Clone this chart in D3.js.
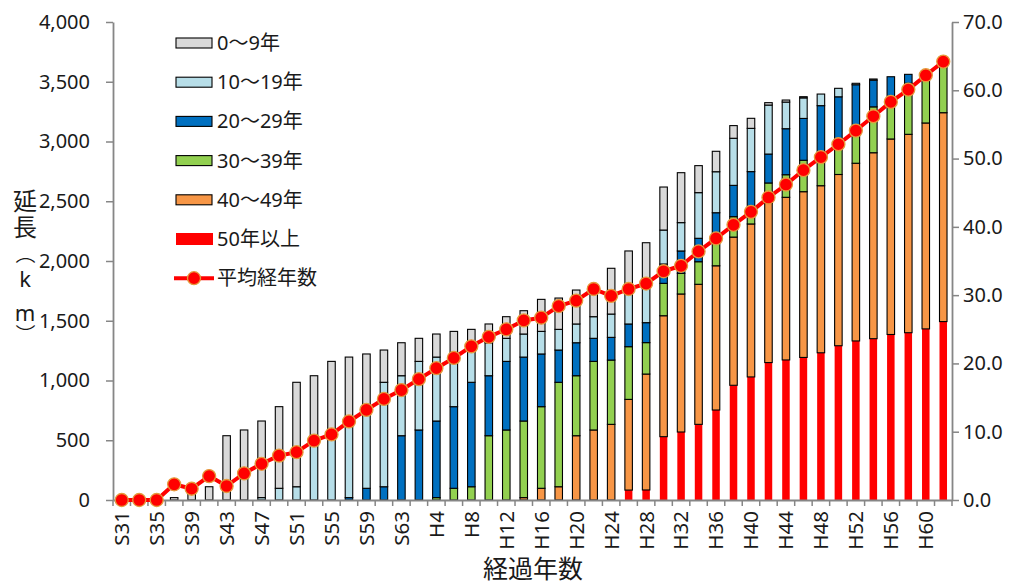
<!DOCTYPE html>
<html>
<head>
<meta charset="utf-8">
<script src="https://cdn.jsdelivr.net/npm/d3@7"></script>
<style>
  html, body { margin: 0; padding: 0; background: #fff; }
  svg { display: block; }
  text { font-family: "Noto Sans", "Noto Sans CJK JP", sans-serif; fill: #1a1a1a; }
</style>
</head>
<body>
<div id="chart"></div>
<script>
// ---------- data ----------
const categories = ["S31","S33","S35","S37","S39","S41","S43","S45","S47","S49","S51","S53","S55","S57","S59","S61","S63",
  "H2","H4","H6","H8","H10","H12","H14","H16","H18","H20","H22","H24","H26","H28","H30","H32","H34","H36","H38","H40",
  "H42","H44","H46","H48","H50","H52","H54","H56","H58","H60","H62"];

const age0_9   = [0,0,0,20,98,111,538,586,641,683,874,502,574,535,441,270,276,193,193,189,173,157,181,195,268,262,284,236,383,364,353,360,418,226,171,106,84,20,17,10,0,0,0,0,0,0,0,0];
const age10_19 = [0,0,0,0,0,0,0,0,20,98,111,538,586,641,683,874,502,574,535,441,270,276,193,193,189,173,157,181,195,247,316,284,237,382,343,394,362,410,223,172,97,71,12,10,0,0,0,0];
const age20_29 = [0,0,0,0,0,0,0,0,0,0,0,0,0,20,98,111,538,586,641,683,874,502,574,535,441,270,276,193,190,190,167,162,187,196,217,262,308,242,385,350,407,384,365,223,197,75,0,0];
const age30_39 = [0,0,0,0,0,0,0,0,0,0,0,0,0,0,0,0,0,0,20,98,111,538,586,641,683,874,502,574,538,441,263,271,173,189,227,171,130,170,189,263,263,266,292,384,324,427,435,449];
const age40_49 = [0,0,0,0,0,0,0,0,0,0,0,0,0,0,0,0,0,0,0,0,0,0,0,20,98,111,538,586,633,759,970,1012,1155,1172,1207,1240,1280,1333,1361,1387,1398,1433,1487,1556,1636,1660,1723,1748];
const age50plus= [0,0,0,0,0,0,0,0,0,0,0,0,0,0,0,0,0,0,0,0,0,0,0,0,0,0,0,0,0,83,84,530,569,633,753,960,1030,1150,1172,1193,1232,1291,1331,1350,1385,1400,1432,1493];
const avgAge   = [0,0,0,2.3,1.65,3.5,2.05,3.9,5.3,6.5,7.0,8.7,9.6,11.5,13.2,14.8,16.1,17.7,19.3,20.8,22.5,23.9,25.0,26.3,26.7,28.4,29.2,30.9,29.9,30.9,31.7,33.5,34.3,36.4,38.3,40.3,42.2,44.3,46.2,48.3,50.2,52.1,54.1,56.2,58.3,60.1,62.2,64.2];

const seriesNames = ["0〜9年","10〜19年","20〜29年","30〜39年","40〜49年","50年以上"];
const lineName = "平均経年数";
const leftTicks = [0,500,1000,1500,2000,2500,3000,3500,4000];
const rightTicks = [0,10,20,30,40,50,60,70];
const xLabelCats = categories.filter((c,i) => i % 2 === 0);
const xTitle = "経過年数";
const yTitleChars = ["延","長","（","k","m","）"];

// ---------- layout ----------
const W = 1018, H = 587;
const L = 113, R = 952, T = 22, B = 500;
const colors = ["#D9D9D9","#B7DEE8","#0070C0","#92D050","#F79646","#FF0000"];

const svg = d3.select("#chart").append("svg").attr("width", W).attr("height", H);
svg.append("rect").attr("width", W).attr("height", H).attr("fill", "#fff");

const x = d3.scaleBand().domain(categories).range([L, R]).padding(0);
const yL = d3.scaleLinear().domain([0, 4000]).range([B, T]);
const yR = d3.scaleLinear().domain([0, 70]).range([B, T]);
const bw = x.bandwidth() * 0.43;

// stacked data
const rows = categories.map((c, i) => ({
  cat: c, s0: age0_9[i], s1: age10_19[i], s2: age20_29[i], s3: age30_39[i], s4: age40_49[i], s5: age50plus[i]
}));
const keys = ["s5","s4","s3","s2","s1","s0"];
const stack = d3.stack().keys(keys)(rows);
const colorOf = {s0:colors[0], s1:colors[1], s2:colors[2], s3:colors[3], s4:colors[4], s5:colors[5]};

const gBars = svg.append("g");
stack.forEach(layer => {
  gBars.append("g").selectAll("rect").data(layer.filter(d => d[1] - d[0] > 0)).join("rect")
    .attr("x", d => x(d.data.cat) + x.bandwidth()/2 - bw/2)
    .attr("width", bw)
    .attr("y", d => yL(d[1]))
    .attr("height", d => yL(d[0]) - yL(d[1]))
    .attr("fill", colorOf[layer.key])
    .attr("stroke", layer.key === "s5" ? "none" : "#000")
    .attr("stroke-width", 1.1);
});

// axes
const axisColor = "#868686";
const gLeft = svg.append("g").attr("transform", `translate(${L},0)`)
  .call(d3.axisLeft(yL).tickValues(leftTicks).tickFormat(d3.format(",")).tickSize(7).tickSizeOuter(0).tickPadding(16));
const gRight = svg.append("g").attr("transform", `translate(${R},0)`)
  .call(d3.axisRight(yR).tickValues(rightTicks).tickFormat(d3.format(".1f")).tickSize(7).tickSizeOuter(0).tickPadding(4));
const gBottom = svg.append("g").attr("transform", `translate(0,${B})`)
  .call(d3.axisBottom(x).tickValues(xLabelCats).tickSize(0).tickPadding(0));

[gLeft, gRight, gBottom].forEach(g => {
  g.selectAll(".domain").attr("stroke", axisColor).attr("stroke-width", 1.8);
  g.selectAll(".tick line").attr("stroke", axisColor).attr("stroke-width", 1.5);
  g.selectAll("text").attr("font-size", 20).attr("fill", "#1a1a1a")
    .attr("font-family", '"Noto Sans", "Noto Sans CJK JP", sans-serif');
});
const bounds = categories.map(c => x(c)).concat([R]);
gBottom.selectAll(".bline").data(bounds).join("line").attr("class","bline")
  .attr("x1", d => d).attr("x2", d => d).attr("y1", 0).attr("y2", 6)
  .attr("stroke", axisColor).attr("stroke-width", 1.5);
gBottom.selectAll(".tick text")
  .attr("font-size", 20.5)
  .attr("text-anchor", "end")
  .attr("transform", "translate(0,11) rotate(-90)")
  .attr("x", 0).attr("y", 0).attr("dy", "0.36em");

// line
const line = d3.line().x(d => x(d.cat) + x.bandwidth()/2).y(d => yR(d.v));
const lineData = categories.map((c, i) => ({cat: c, v: avgAge[i]}));
svg.append("path").datum(lineData).attr("d", line)
  .attr("fill", "none").attr("stroke", "#FF0000").attr("stroke-width", 4).attr("stroke-linejoin", "round");
svg.append("g").selectAll("circle").data(lineData).join("circle")
  .attr("cx", d => x(d.cat) + x.bandwidth()/2).attr("cy", d => yR(d.v)).attr("r", 6.5)
  .attr("fill", "#FF0000").attr("stroke", "#E59A3C").attr("stroke-width", 1.3);

// legend
const lg = svg.append("g");
const ly0 = 43, lstep = 39.2;
seriesNames.forEach((name, i) => {
  const cy = ly0 + i * lstep;
  if (i === 5) {
    lg.append("rect").attr("x", 176).attr("y", cy - 6).attr("width", 37).attr("height", 12).attr("fill", colors[i]);
  } else {
    lg.append("rect").attr("x", 176).attr("y", cy - 5).attr("width", 36).attr("height", 10)
      .attr("fill", colors[i]).attr("stroke", "#000").attr("stroke-width", 1.1);
  }
  lg.append("text").attr("x", 217).attr("y", cy).attr("dy", "0.35em").attr("font-size", 20).text(name);
});
{
  const cy = ly0 + 6 * lstep;
  lg.append("line").attr("x1", 174).attr("x2", 214).attr("y1", cy).attr("y2", cy)
    .attr("stroke", "#FF0000").attr("stroke-width", 4);
  lg.append("circle").attr("cx", 194).attr("cy", cy).attr("r", 6.5)
    .attr("fill", "#FF0000").attr("stroke", "#E59A3C").attr("stroke-width", 1.3);
  lg.append("text").attr("x", 217).attr("y", cy).attr("dy", "0.35em").attr("font-size", 20).text(lineName);
}

// axis titles
svg.append("text").attr("x", 533).attr("y", 569).attr("dy", "0.35em").attr("text-anchor", "middle")
  .attr("font-size", 25).attr("font-family", '"Noto Sans CJK JP", sans-serif').text(xTitle);

const yTitlePos = [202, 228, 254, 279, 313, 334];
const yTitleSize = [24, 24, 20, 22, 22, 20];
yTitleChars.forEach((ch, i) => {
  const rot = (ch === "（" || ch === "）") ? 90 : 0;
  svg.append("text")
    .attr("transform", `translate(25,${yTitlePos[i]}) rotate(${rot})`)
    .attr("text-anchor", "middle").attr("dy", "0.35em")
    .attr("font-size", yTitleSize[i])
    .attr("font-family", '"Noto Sans CJK JP", sans-serif')
    .text(ch);
});
</script>
</body>
</html>
